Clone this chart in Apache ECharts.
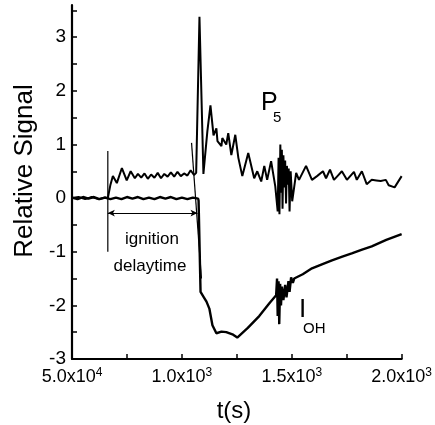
<!DOCTYPE html>
<html>
<head>
<meta charset="utf-8">
<script src="https://cdn.jsdelivr.net/npm/echarts@6/dist/echarts.min.js"></script>
<style>
  html, body { margin: 0; padding: 0; background: #fff; }
  #main { width: 435px; height: 425px; }
</style>
</head>
<body>
<div id="main"></div>
<script>
// time in units of 1e-4 s
var p5T = [5.0, 5.3, 5.6, 5.9, 6.2, 6.5, 6.63,
  6.75, 6.86, 7.04, 7.27, 7.49, 7.67, 7.86, 8.0, 8.15, 8.3, 8.45, 8.6, 8.75, 8.9, 9.05, 9.2, 9.35, 9.5, 9.65, 9.8, 9.95, 10.1, 10.25, 10.4, 10.55, 10.65,
  10.8, 10.98, 11.16, 11.3, 11.44, 11.57, 11.62, 11.8, 11.84, 12.02, 12.11, 12.25, 12.43, 12.57, 12.75, 13.02, 13.29, 13.43, 13.61, 13.75, 13.88, 14.06, 14.25,
  14.3, 14.36, 14.4, 14.44, 14.48, 14.52, 14.55, 14.58, 14.62, 14.66, 14.7, 14.74, 14.78, 14.82, 14.86, 14.9, 14.95, 15.02,
  15.2, 15.33, 15.65, 15.92, 16.15, 16.42, 16.56, 16.74, 16.92, 17.1, 17.28, 17.51, 17.83, 17.96, 18.19, 18.41, 18.64, 18.85, 19.05, 19.28, 19.41, 19.68, 20.0];
var p5V = [0.0, 0.02, -0.02, 0.02, -0.02, 0.01, 0.0,
  0.25, 0.41, 0.28, 0.56, 0.33, 0.5, 0.37, 0.45, 0.38, 0.46, 0.36, 0.44, 0.38, 0.47, 0.37, 0.45, 0.4, 0.48, 0.4, 0.49, 0.41, 0.46, 0.42, 0.52, 0.43, 0.47,
  3.38, 0.45, 1.25, 1.73, 1.17, 1.3, 1.06, 0.97, 1.12, 1.0, 1.21, 0.8, 1.18, 0.75, 0.41, 0.84, 0.37, 0.5, 0.31, 0.6, 0.34, 0.69, 0.22,
  0.2, -0.25, 0.75, -0.3, 1.0, 0.1, 0.9, -0.2, 0.8, 0.2, 0.7, -0.1, 0.6, 0.25, 0.55, -0.25, 0.5, -0.06,
  0.47, 0.34, 0.6, 0.34, 0.41, 0.5, 0.37, 0.53, 0.34, 0.42, 0.5, 0.34, 0.49, 0.34, 0.5, 0.26, 0.34, 0.33, 0.32, 0.34, 0.24, 0.2, 0.41];

var ohT = [5.0, 5.25, 5.5, 5.75, 6.0, 6.25, 6.5, 6.75, 7.0, 7.25, 7.5, 7.75, 8.0, 8.25, 8.5, 8.75, 9.0, 9.25, 9.5, 9.75, 10.0, 10.25, 10.5, 10.74,
  10.76, 10.85, 11.0, 11.12, 11.25, 11.39, 11.57, 11.8, 12.02, 12.3, 12.52, 12.61, 13.0, 13.52, 14.0, 14.29,
  14.33, 14.36, 14.4, 14.43, 14.47, 14.51, 14.55, 14.62, 14.7, 14.76, 14.85, 14.9, 14.97, 15.05,
  15.11, 15.5, 15.92, 16.4, 16.83, 17.3, 17.73, 18.2, 18.64, 19.3, 20.0];
var ohV = [0.01, -0.02, 0.02, -0.01, 0.02, -0.02, 0.01, -0.02, 0.01, -0.02, 0.02, -0.01, 0.02, -0.02, 0.01, -0.02, 0.02, -0.01, 0.02, -0.02, 0.01, -0.02, 0.01, -0.01,
  -0.05, -1.75, -1.85, -1.93, -2.06, -2.37, -2.52, -2.49, -2.5, -2.54, -2.6, -2.6, -2.42, -2.2, -1.95, -1.81,
  -1.5, -2.2, -1.55, -2.35, -1.6, -2.0, -1.65, -1.9, -1.62, -1.85, -1.55, -1.75, -1.48, -1.58,
  -1.5, -1.42, -1.31, -1.23, -1.16, -1.09, -1.03, -0.96, -0.9, -0.78, -0.67];

// guide lines for the ignition delay
var startLineT = [6.63, 6.63];
var startLineV = [0.88, -1.0];
var tangentT = [10.44, 10.89];
var tangentV = [1.03, -1.5];
var arrowT = [6.63, 10.71];
var arrowV = -0.28;

var xTickLabels = { 5: '5.0x10{s|4}', 10: '1.0x10{s|3}', 15: '1.5x10{s|3}', 20: '2.0x10{s|3}' };
var yTickLabels = [-3, -2, -1, 0, 1, 2, 3];
var yTicks = [-3, -2.5, -2, -1.5, -1, -0.5, 0, 0.5, 1, 1.5, 2, 2.5, 3, 3.5];

function pairs(t, v) {
  return t.map(function (x, i) { return [x, v[i]]; });
}

var FONT = 'Liberation Sans, Arial, sans-serif';
var myChart = echarts.init(document.getElementById('main'));
var option = {
  animation: false,
  grid: { left: 72, right: 32, top: 5, bottom: 66 },
  xAxis: {
    type: 'value', min: 5, max: 20, interval: 2.5,
    axisLine: { onZero: false, lineStyle: { color: '#000', width: 2.2 } },
    axisTick: { inside: true, length: 5, lineStyle: { color: '#000', width: 1.5 } },
    splitLine: { show: false },
    axisLabel: {
      margin: 8, color: '#000', fontFamily: FONT, fontSize: 18,
      formatter: function (v) { return xTickLabels[v] || ''; },
      rich: { s: { fontSize: 12, fontFamily: FONT, color: '#000', padding: [0, 0, 9, 0] } }
    }
  },
  yAxis: {
    type: 'value', min: -3, max: 3.6, interval: 0.5,
    axisLine: { onZero: false, lineStyle: { color: '#000', width: 2.2 } },
    axisTick: { inside: true, length: 5, customValues: yTicks, lineStyle: { color: '#000', width: 1.5 } },
    splitLine: { show: false },
    axisLabel: {
      margin: 6, color: '#000', fontFamily: FONT, fontSize: 19,
      customValues: yTickLabels,
      formatter: function (v) { return String(v); }
    }
  },
  series: [
    {
      type: 'line', data: pairs(ohT, ohV), symbol: 'none',
      lineStyle: { color: '#000', width: 2.4 }
    },
    {
      type: 'line', data: pairs(p5T, p5V), symbol: 'none',
      lineStyle: { color: '#000', width: 2 }
    },
    {
      type: 'line', data: pairs(startLineT, startLineV), symbol: 'none',
      lineStyle: { color: '#000', width: 1.2 }
    },
    {
      type: 'line', data: pairs(tangentT, tangentV), symbol: 'none',
      lineStyle: { color: '#000', width: 1.2 },
      markLine: {
        silent: true, symbol: ['arrow', 'arrow'], symbolSize: [5, 7],
        label: { show: false },
        lineStyle: { color: '#000', width: 1.2, type: 'solid' },
        data: [[{ coord: [arrowT[0], arrowV] }, { coord: [arrowT[1], arrowV] }]]
      }
    }
  ],
  graphic: [
    { type: 'text', x: 152, y: 239, style: { text: 'ignition', font: '17px ' + FONT, fill: '#000', align: 'center', verticalAlign: 'middle' } },
    { type: 'text', x: 150, y: 266, style: { text: 'delaytime', font: '17px ' + FONT, fill: '#000', align: 'center', verticalAlign: 'middle' } },
    { type: 'text', x: 261, y: 103, style: { text: 'P', font: '25px ' + FONT, fill: '#000', align: 'left', verticalAlign: 'middle' } },
    { type: 'text', x: 273, y: 118, style: { text: '5', font: '15px ' + FONT, fill: '#000', align: 'left', verticalAlign: 'middle' } },
    { type: 'text', x: 299, y: 310, style: { text: 'I', font: '26px ' + FONT, fill: '#000', align: 'left', verticalAlign: 'middle' } },
    { type: 'text', x: 303, y: 329, style: { text: 'OH', font: '15px ' + FONT, fill: '#000', align: 'left', verticalAlign: 'middle' } },
    { type: 'text', x: 25, y: 171, rotation: Math.PI / 2, style: { text: 'Relative Signal', font: '26px ' + FONT, fill: '#000', align: 'center', verticalAlign: 'middle' } },
    { type: 'text', x: 234, y: 411, style: { text: 't(s)', font: '24px ' + FONT, fill: '#000', align: 'center', verticalAlign: 'middle' } }
  ]
};
myChart.setOption(option);
</script>
</body>
</html>
